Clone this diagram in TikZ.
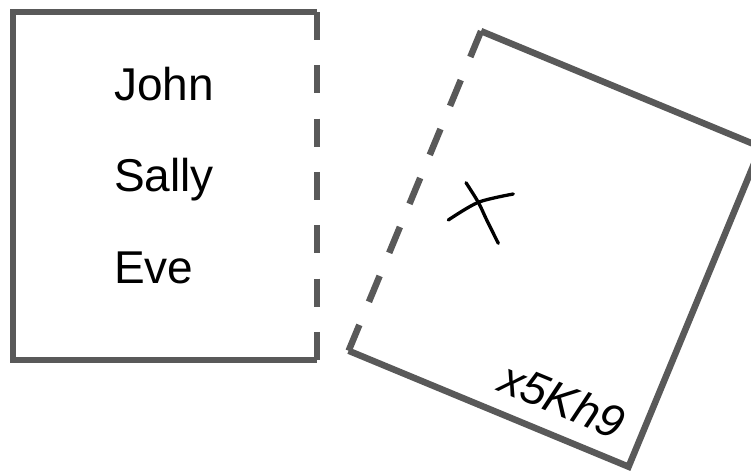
\documentclass[tikz,border=0pt]{standalone}
\usepackage{fontspec}
\setmainfont{Liberation Sans}
\definecolor{boxgray}{RGB}{89,89,89}
\begin{document}
\begin{tikzpicture}[x=1pt,y=-1pt,
  edge/.style={draw=boxgray,line width=6.5pt},
  frame/.style={rectangle,inner sep=0pt,outer sep=0pt,minimum width=304pt,minimum height=348pt},
  label/.style={font=\fontsize{46}{55}\selectfont,anchor=base west,inner sep=0pt,outer sep=0pt},
  pen/.style={draw=black,line width=3.3pt,line cap=round,line join=round}]
\useasboundingbox (0,0) rectangle (751,474);
\clip (0,0) rectangle (751,474);
% boxes
\node[frame] (lbox) at (165,186) {};
\node[frame,minimum width=303pt,minimum height=346pt,rotate=-22.5] (rbox) at (554.8,248.9) {};
\draw[edge,line join=miter] (lbox.north east) -- (lbox.north west) -- (lbox.south west) -- (lbox.south east);
\draw[edge,dash pattern=on 28pt off 25.33pt] (lbox.north east) -- (lbox.south east);
\draw[edge,line join=miter] (rbox.north west) -- (rbox.north east) -- (rbox.south east) -- (rbox.south west);
\draw[edge,dash pattern=on 28pt off 25pt] (rbox.north west) -- (rbox.south west);
% texts
\node[label] (john) at (114,100) {John};
\node[label] (sally) at (114,191.5) {Sally};
\node[label] (eve) at (114,283) {Eve};
\node[label,rotate=-22.5,font=\fontsize{46}{55}\selectfont\itshape] (code) at (496,390) {x5Kh9};
% hand-drawn cross
\draw[pen] plot[smooth] coordinates {(448.3,220) (478.3,202.3) (513.3,194)};
\draw[pen] plot[smooth] coordinates {(466,182.7) (478.3,202.3) (486.7,220) (498.3,243.3)};
\end{tikzpicture}
\end{document}
